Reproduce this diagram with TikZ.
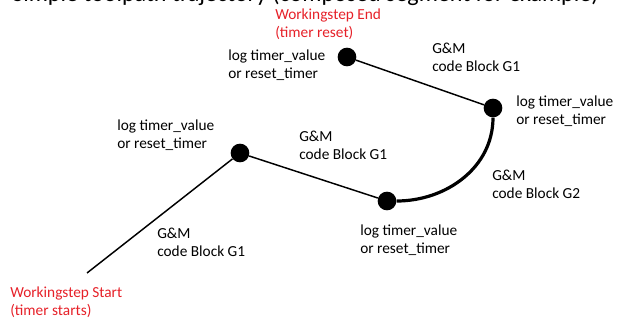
\documentclass[tikz,border=0pt]{standalone}
\usepackage{fontspec}
\setmainfont{Carlito}
\usepackage{tikz}
\usetikzlibrary{positioning}
\definecolor{wsred}{RGB}{230,32,40}

\begin{document}
\begin{tikzpicture}[x=0.75pt,y=0.75pt,
  dot/.style={circle,fill=black,inner sep=0pt,minimum size=14pt},
  lbl/.style={anchor=west,align=left,inner sep=0pt,font=\fontsize{11.5}{13.5}\selectfont},
  redlbl/.style={lbl,text=wsred},
  seg/.style={line width=1.1pt},
  arcseg/.style={line width=2.4pt}]

\useasboundingbox (0,0) rectangle (617,-320);
\clip (0,0) rectangle (617,-320);

% title, cut by the upper edge
\node[anchor=base west,inner sep=0pt,font=\fontsize{18}{18}\selectfont] (title) at (12,-2) {Simple toolpath trajectory (composed segment for example)};

\coordinate (start) at (87,-273);
\node[dot] (p1) at (240,-153) {};
\node[dot] (p2) at (387,-201) {};
\node[dot] (p3) at (493,-108) {};
\node[dot] (p4) at (347,-57) {};

\draw[seg] (start) -- (p1);
\draw[seg] (p1) -- (p2);
\draw[arcseg] (p2) to[out=0,in=-90] (p3);
\draw[seg] (p3) -- (p4);

\node[redlbl] (wsstart) at (10,-302) {Workingstep Start\\(timer starts)};
\node[redlbl] (wsend) at (275,-24) {Workingstep End\\(timer reset)};

\node[lbl] (log1) at (117,-135) {log timer\_value\\or reset\_timer};
\node[lbl] (log2) at (360,-240) {log timer\_value\\or reset\_timer};
\node[lbl] (log3) at (516,-111) {log timer\_value\\or reset\_timer};
\node[lbl] (log4) at (228,-65) {log timer\_value\\or reset\_timer};

\node[lbl] (gm1) at (157,-242) {G\&M\\code Block G1};
\node[lbl] (gm2) at (299,-145) {G\&M\\code Block G1};
\node[lbl] (gm3) at (492,-184) {G\&M\\code Block G2};
\node[lbl] (gm4) at (432,-57) {G\&M\\code Block G1};

\end{tikzpicture}
\end{document}
